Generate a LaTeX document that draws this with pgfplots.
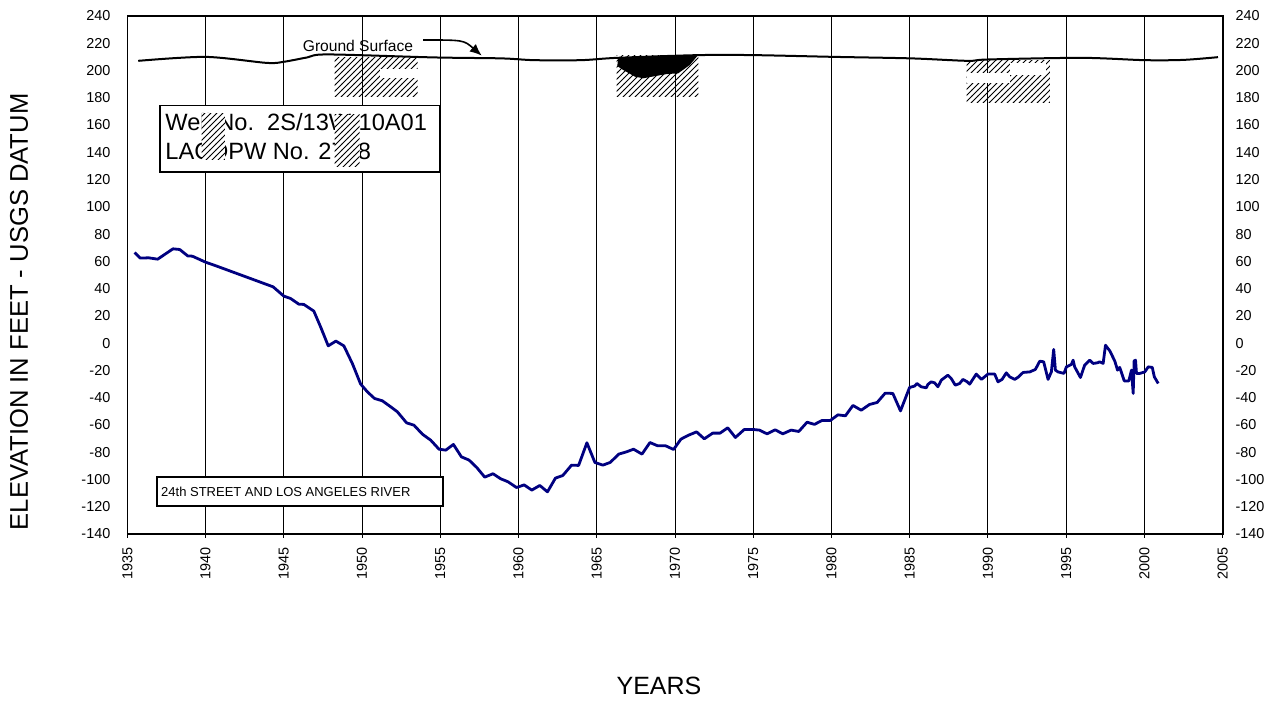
\documentclass[border=0pt]{standalone}
\usepackage{fontspec}
\setmainfont{Liberation Sans}
\usepackage{pgfplots}
\pgfplotsset{compat=1.18}
\usetikzlibrary{patterns,arrows.meta}
\definecolor{navyline}{RGB}{0,0,128}
\pgfplotstableread{
year val
1935.47 66.5
1935.83 62.4
1936.36 62.6
1936.94 61.6
1937.92 69.2
1938.35 68.7
1938.86 64.0
1939.16 63.8
1940.00 59.4
1940.60 57.0
1944.32 41.3
1945.00 34.5
1945.43 32.8
1945.96 28.6
1946.28 28.4
1946.92 23.5
1947.35 12.0
1947.84 -2.0
1948.33 1.5
1948.84 -2.0
1949.38 -14.9
1949.91 -30.0
1950.34 -35.7
1950.80 -40.6
1951.30 -42.3
1951.83 -46.7
1952.26 -50.4
1952.85 -58.5
1953.32 -60.2
1953.86 -66.8
1954.39 -71.2
1954.92 -77.8
1955.35 -78.5
1955.84 -74.3
1956.35 -83.4
1956.84 -85.8
1957.33 -91.2
1957.84 -98.3
1958.37 -95.8
1958.86 -99.5
1959.33 -101.7
1959.87 -105.9
1960.36 -104.0
1960.85 -107.8
1961.36 -104.4
1961.85 -109.1
1962.36 -99.0
1962.83 -97.1
1963.39 -89.5
1963.84 -89.7
1964.37 -73.1
1964.88 -87.5
1965.39 -89.5
1965.86 -87.5
1966.41 -81.4
1966.91 -79.7
1967.35 -77.8
1967.89 -81.4
1968.40 -72.9
1968.89 -75.3
1969.40 -75.3
1969.91 -78.0
1970.38 -70.4
1970.87 -67.5
1971.38 -65.1
1971.87 -70.2
1972.41 -66.0
1972.88 -66.0
1973.37 -62.1
1973.86 -69.2
1974.43 -63.3
1974.97 -63.3
1975.39 -63.8
1975.88 -66.5
1976.40 -63.6
1976.89 -66.5
1977.42 -63.8
1977.91 -64.8
1978.44 -58.0
1978.91 -59.6
1979.40 -56.7
1979.93 -56.7
1980.41 -52.6
1980.89 -53.3
1981.37 -45.7
1981.90 -49.2
1982.43 -45.0
1982.92 -43.5
1983.43 -36.7
1983.92 -36.9
1984.41 -49.7
1984.99 -32.5
1985.31 -31.5
1985.46 -29.6
1985.73 -32.0
1986.06 -32.8
1986.16 -30.3
1986.37 -28.4
1986.59 -29.1
1986.80 -32.0
1987.02 -27.1
1987.44 -23.5
1987.65 -25.9
1987.91 -30.8
1988.19 -29.6
1988.40 -26.6
1988.68 -28.4
1988.83 -30.1
1989.25 -22.7
1989.58 -26.6
1990.00 -22.7
1990.43 -22.7
1990.64 -28.4
1990.90 -26.6
1991.17 -21.8
1991.39 -24.7
1991.71 -26.6
1991.96 -24.7
1992.24 -21.5
1992.67 -21.1
1993.03 -19.3
1993.31 -13.2
1993.56 -13.7
1993.84 -26.6
1994.05 -21.1
1994.20 -4.6
1994.31 -19.8
1994.48 -21.1
1994.86 -22.2
1995.01 -17.4
1995.33 -15.6
1995.44 -12.5
1995.54 -17.4
1995.91 -25.2
1996.18 -16.1
1996.50 -12.5
1996.72 -14.9
1997.00 -14.4
1997.14 -13.7
1997.36 -14.9
1997.51 -1.5
1997.78 -5.6
1998.10 -13.0
1998.28 -19.8
1998.42 -17.8
1998.71 -27.7
1999.00 -27.7
1999.17 -19.8
1999.28 -36.9
1999.34 -13.0
1999.43 -12.5
1999.49 -22.2
1999.70 -22.2
2000.02 -21.1
2000.24 -17.4
2000.50 -17.8
2000.63 -24.7
2000.88 -29.6
}\welldata
\pgfplotstableread{
year val
1935.7 207.1
1940.0 210.0
1943.9 205.6
1945.0 206.4
1946.5 209.6
1947.8 211.8
1954.6 209.6
1958.9 208.9
1961.0 207.6
1964.0 207.6
1966.3 209.3
1971.5 211.3
1975.0 211.3
1980.2 210.0
1985.1 208.9
1988.7 207.1
1990.0 208.1
1996.0 209.3
2000.0 207.6
2002.5 207.8
2004.7 209.8
}\grounddata
\begin{document}
\begin{tikzpicture}
\pgfplotsset{
  base/.style={
    scale only axis, width=547.7pt, height=259pt,
    xmin=1935, xmax=2005, ymin=-140, ymax=240,
    ytick={-140,-120,...,240},
    /pgf/number format/assume math mode=true,
    /pgf/number format/1000 sep={},
    tick label style={font=\fontsize{7.2}{8.6}\selectfont},
    axis line style={black, line width=0.8pt},
  }
}
\begin{axis}[base,
  xtick={1935,1940,...,2005},
  xmajorgrids, major grid style={black, line width=0.5pt},
  x tick style={black, line width=0.5pt},
  ytick style={draw=none},
  tick align=outside, major tick length=2pt,
  xtick pos=bottom, ytick pos=left,
  xticklabel style={rotate=90, anchor=east, inner sep=0pt, xshift=-4.3pt},
  yticklabel style={anchor=east, inner sep=0pt, xshift=-6.3pt},
  clip=false,
]
\coordinate (SW) at (rel axis cs:0,0);
\coordinate (NE) at (rel axis cs:1,1);
% redaction hatches near ground
\fill[pattern=north east lines] (axis cs:1948.25,180.6) rectangle (axis cs:1953.55,209.9);
\fill[white] (axis cs:1951.12,194.5) rectangle (axis cs:1953.55,201.1);
\fill[pattern=north east lines] (axis cs:1966.27,180.8) rectangle (axis cs:1971.49,210.7);
\fill[black] (axis cs:1966.37,209.0) -- (axis cs:1971.48,211.4) -- (axis cs:1970.95,204.1) -- (axis cs:1970.20,197.9) -- (axis cs:1969.46,197.4) -- (axis cs:1967.97,194.3) -- (axis cs:1967.44,195.5) -- (axis cs:1966.69,200.4) -- (axis cs:1966.31,203.3) -- cycle;
\fill[pattern=north east lines] (axis cs:1988.63,176.4) rectangle (axis cs:1993.96,207.2);
\fill[white] (axis cs:1988.63,190.6) rectangle (axis cs:1991.40,197.9);
\fill[white] (axis cs:1991.40,196.7) rectangle (axis cs:1993.70,205.3);
% data
\addplot[navyline, line width=1.4pt, line join=round] table[x=year,y=val] {\welldata};
\addplot[black, line width=1pt, smooth, tension=0.5] table[x=year,y=val] {\grounddata};
% ground surface label and arrow
\node[font=\fontsize{7.8}{9}\selectfont, inner sep=0pt] at (axis cs:1949.74,218) {Ground Surface};
\draw[line width=0.8pt, -{Latex[length=6pt,width=5pt]}] (axis cs:1953.9,222.4) .. controls (axis cs:1956.5,222.4) .. (axis cs:1957.65,210.9);
% well box
\draw[fill=white, line width=0.9pt] (axis cs:1937.1,125.8) rectangle (axis cs:1955.0,174.4);
\node[anchor=base west, inner sep=0pt, font=\fontsize{11.8}{14}\selectfont] at (axis cs:1937.41,155.9) {Well No.\ \ 2S/13W-10A01};
\node[anchor=base west, inner sep=0pt, font=\fontsize{11.8}{14}\selectfont] at (axis cs:1937.41,134.9) {LACDPW No. 2778};
\fill[white] (axis cs:1939.75,134.4) rectangle (axis cs:1941.24,168.8);
\fill[pattern=north east lines] (axis cs:1939.75,134.4) rectangle (axis cs:1941.24,168.8);
\fill[white] (axis cs:1948.25,129.3) rectangle (axis cs:1949.85,167.4);
\fill[pattern=north east lines] (axis cs:1948.25,129.3) rectangle (axis cs:1949.85,167.4);
% location box
\draw[fill=white, line width=0.9pt] (axis cs:1936.92,-119.5) rectangle (axis cs:1955.16,-98.4);
\node[anchor=west, inner sep=0pt, font=\fontsize{6.5}{8}\selectfont] at (axis cs:1937.14,-109) {24th STREET AND LOS ANGELES RIVER};
% axis labels
\node[rotate=90, font=\fontsize{12.8}{15}\selectfont] at (rel axis cs:-0.0989,0.4286) {ELEVATION IN FEET - USGS DATUM};
\node[font=\fontsize{12.5}{15}\selectfont] at (rel axis cs:0.4854,-0.2934) {YEARS};
\end{axis}
\begin{axis}[base,
  axis x line=none, axis y line*=right,
  ytick style={draw=none},
  yticklabel style={anchor=west, inner sep=0pt, xshift=6.2pt},
]
\end{axis}
\pgfresetboundingbox
\path ([shift={(-63.65pt,-84pt)}]SW) rectangle ([shift={(27.65pt,8pt)}]NE);
\end{tikzpicture}
\end{document}
